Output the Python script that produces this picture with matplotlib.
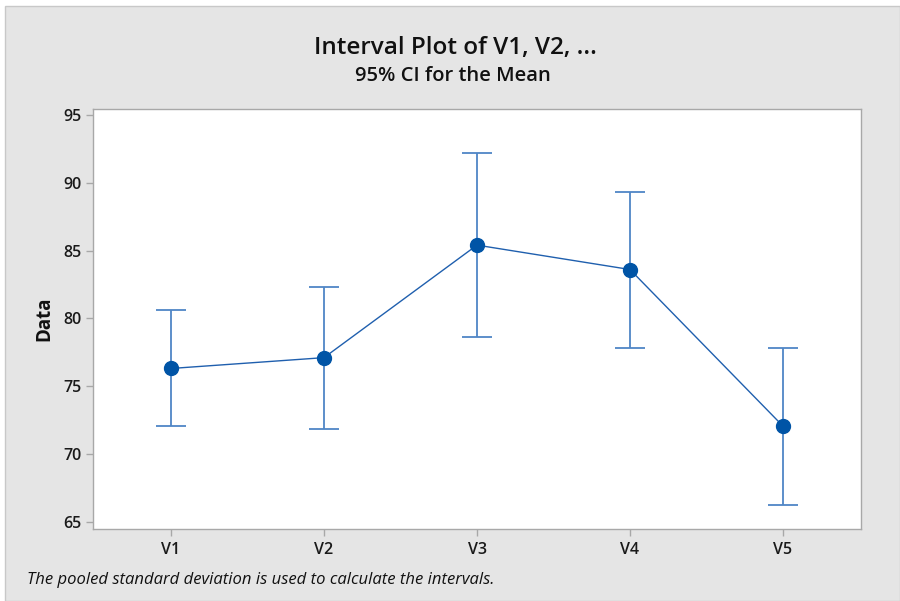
import matplotlib
matplotlib.use("Agg")
import matplotlib.pyplot as plt
from matplotlib.patches import Rectangle

categories = ["V1", "V2", "V3", "V4", "V5"]
means = [76.3, 77.1, 85.4, 83.6, 72.05]
lower = [72.05, 71.85, 78.6, 77.8, 66.2]
upper = [80.6, 82.3, 92.2, 89.35, 77.8]
yticks = [65, 70, 75, 80, 85, 90, 95]

plt.rcParams['font.family'] = ['Open Sans', 'DejaVu Sans']

W, H = 900, 601
fig = plt.figure(figsize=(W / 100, H / 100), dpi=100)
fig.patch.set_facecolor('white')
bg = Rectangle((5 / W, 0), 1 - 5 / W, 1 - 6 / H, transform=fig.transFigure,
               facecolor='#e5e5e5', edgecolor='#c8c8c8', linewidth=1, zorder=-10)
fig.patches.append(bg)

ax = fig.add_axes([93 / W, 1 - 529 / H, (861 - 93) / W, (529 - 109) / H])
ax.set_zorder(5)
ax.set_facecolor('white')

x = list(range(1, len(categories) + 1))
yerr = [[m - l for m, l in zip(means, lower)], [u - m for m, u in zip(means, upper)]]
ax.errorbar(x, means, yerr=yerr, fmt='none', ecolor='#4f86c6', elinewidth=1.3,
            capsize=10.5, capthick=1.3, zorder=2)
ax.plot(x, means, color='#1f5fae', linewidth=1.0, zorder=3)
ax.plot(x, means, 'o', color='#0054a6', markersize=10, zorder=4)

ax.set_xlim(0.49, 5.51)
ax.set_ylim(64.46, 95.44)
ax.set_yticks(yticks)
ax.set_xticks(x)
ax.set_xticklabels(categories)
for s in ax.spines.values():
    s.set_color('#a8a8a8')
    s.set_linewidth(1.0)
ax.tick_params(axis='both', colors='#a8a8a8', length=5, width=1, direction='out',
               labelcolor='#1a1a1a', labelsize=11.5)
for lab in ax.get_xticklabels() + ax.get_yticklabels():
    lab.set_fontweight('semibold')
ax.tick_params(axis='y', pad=3)
ax.tick_params(axis='x', pad=4)

ax.set_ylabel('Data', fontsize=13.5, fontweight='bold', color='#111111', labelpad=7)

fig.text(455 / W, 1 - 48 / H, 'Interval Plot of V1, V2, ...', ha='center', va='center',
         fontsize=17.5, fontweight='semibold', color='#111111')
fig.text(453 / W, 1 - 76 / H, '95% CI for the Mean', ha='center', va='center',
         fontsize=14.5, fontweight='semibold', color='#111111')
fig.text(27 / W, 1 - 580 / H, 'The pooled standard deviation is used to calculate the intervals.',
         ha='left', va='center', fontsize=12, style='italic', color='#111111')

fig.savefig('out.png', dpi=100, facecolor=fig.get_facecolor())
